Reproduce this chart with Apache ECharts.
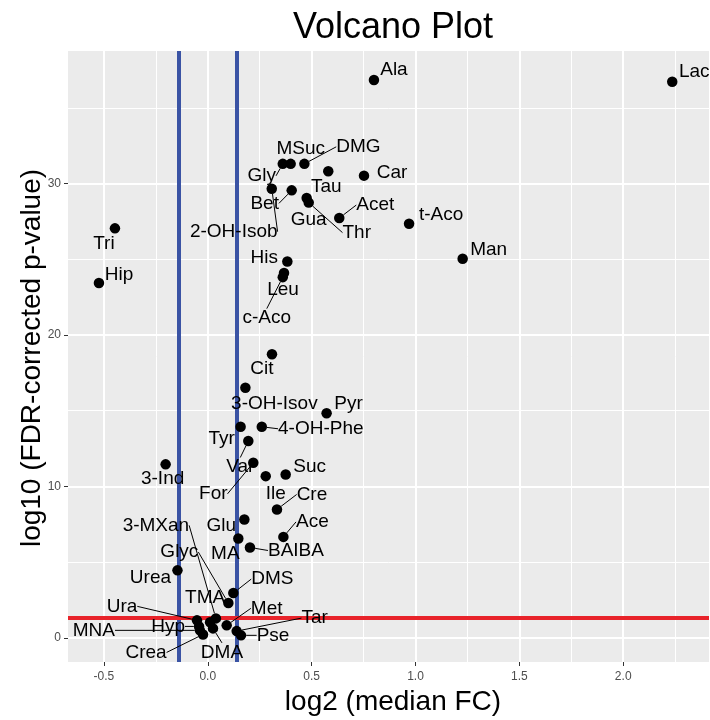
<!DOCTYPE html>
<html>
<head>
<meta charset="utf-8">
<script src="https://cdn.jsdelivr.net/npm/echarts@6/dist/echarts.min.js"></script>
<style>
html,body{margin:0;padding:0;background:#fff;}
#chart{width:710px;height:720px;}
</style>
</head>
<body>
<div id="chart"></div>
<script>
// ---- data ----
const metabolites = ['Ala','Lac','Car','t-Aco','Man','Tri','Hip','Gly','MSuc','DMG','Tau','2-OH-Isob','Bet','Gua','Thr','Acet','His','Leu','c-Aco','Cit','3-OH-Isov','Pyr','Tyr','4-OH-Phe','Var','For','3-Ind','Ile','Suc','Cre','Glu','Ace','MA','BAIBA','Urea','DMS','Glyc','3-MXan','TMA','Met','Tar','Pse','Ura','Hyp','MNA','Crea','DMA'];
const log2FC = [0.800,2.236,0.752,0.969,1.227,-0.447,-0.524,0.361,0.399,0.465,0.580,0.308,0.404,0.476,0.486,0.633,0.383,0.367,0.361,0.309,0.181,0.572,0.158,0.260,0.195,0.219,-0.203,0.279,0.375,0.333,0.176,0.364,0.147,0.203,-0.146,0.123,0.099,0.039,0.011,0.091,0.139,0.160,-0.052,-0.042,-0.038,-0.023,0.025];
const log10P = [36.83,36.72,30.52,27.35,25.03,27.04,23.43,31.30,31.30,31.30,30.81,29.66,29.55,29.05,28.74,27.72,24.85,24.09,23.82,18.73,16.52,14.83,13.94,13.94,13.00,11.56,11.46,10.68,10.79,8.48,7.82,6.67,6.56,5.97,4.46,2.96,2.30,1.29,1.03,0.83,0.45,0.17,1.16,0.76,0.50,0.23,0.63];
const xTicks = [-0.5, 0.0, 0.5, 1.0, 1.5, 2.0];
const xMinorTicks = [-0.25, 0.25, 0.75, 1.25, 1.75, 2.25];
const yTicks = [0, 10, 20, 30];
const yMinorTicks = [5, 15, 25, 35];
const fcThresholds = [-0.14, 0.14];
const pThresholds = [1.3];
const xRange = [-0.673, 2.413];
const yRange = [-1.59, 38.75];

// ---- label placement (pixel offsets of label centre from point; true = leader line) ----
const labelPlacement = {
  'Ala':[20,-10],'Lac':[22,-10],'Car':[28,-3],'t-Aco':[32,-9],'Man':[26,-9],
  'Tri':[-11,15],'Hip':[20,-8],'Gly':[-21,12,true],'MSuc':[10,-15],'DMG':[54,-17,true],
  'Tau':[-2,16],'2-OH-Isob':[-38,43,true],'Bet':[-27,13,true],'Gua':[2,22],'Thr':[48,30,true],
  'Acet':[36,-13,true],'His':[-23,-4],'Leu':[-1,17],'c-Aco':[-16,41,true],'Cit':[-10,15],
  '3-OH-Isov':[29,16],'Pyr':[22,-10],'Tyr':[-19,12],'4-OH-Phe':[59,2,true],'Var':[-8,26,true],
  'For':[-40,31,true],'3-Ind':[-3,14],'Ile':[10,18],'Suc':[24,-8],'Cre':[35,-15,true],
  'Glu':[-23,6],'Ace':[29,-15,true],'MA':[-13,15],'BAIBA':[46,3,true],'Urea':[-27,7],
  'DMS':[39,-14,true],'Glyc':[-49,-51,true],'3-MXan':[-60,-93,true],'TMA':[-5,-25],
  'Met':[40,-17,true],'Tar':[78,-13,true],'Pse':[32,0,true],'Ura':[-75,-14,true],
  'Hyp':[-31,0,true],'MNA':[-106,0,true],'Crea':[-57,18,true],'DMA':[9,24,true]
};

const FONT = '"Liberation Sans", Arial, sans-serif';

const pointData = metabolites.map((n, i) => ({
  name: n,
  value: [log2FC[i], log10P[i]],
  labelLine: { show: !!(labelPlacement[n] && labelPlacement[n][2]) }
}));

const gridLines = []
  .concat(xTicks.map(v => ({ xAxis: v, lineStyle: { width: 2 } })))
  .concat(xMinorTicks.map(v => ({ xAxis: v, lineStyle: { width: 1 } })))
  .concat(yTicks.map(v => ({ yAxis: v, lineStyle: { width: 2 } })))
  .concat(yMinorTicks.map(v => ({ yAxis: v, lineStyle: { width: 1 } })));

const thresholdLines = []
  .concat(fcThresholds.map(v => ({ xAxis: v, lineStyle: { color: '#3A53A4' } })))
  .concat(pThresholds.map(v => ({ yAxis: v, lineStyle: { color: '#E8232A' } })));

const chart = echarts.init(document.getElementById('chart'));
chart.setOption({
  animation: false,
  backgroundColor: '#fff',
  grid: { left: 68, right: 1, top: 51, bottom: 58, show: true, backgroundColor: '#EBEBEB', borderWidth: 0 },
  xAxis: {
    type: 'value', min: xRange[0], max: xRange[1],
    axisLine: { show: true, onZero: false, lineStyle: { color: 'rgba(0,0,0,0)' } },
    splitLine: { show: false },
    axisTick: { show: true, customValues: xTicks, length: 4, lineStyle: { color: '#333', width: 1 } },
    axisLabel: { customValues: xTicks, formatter: v => v.toFixed(1), color: '#4D4D4D', fontSize: 12, margin: 9, fontFamily: FONT }
  },
  yAxis: {
    type: 'value', min: yRange[0], max: yRange[1],
    axisLine: { show: true, onZero: false, lineStyle: { color: 'rgba(0,0,0,0)' } },
    splitLine: { show: false },
    axisTick: { show: true, customValues: yTicks, length: 4, lineStyle: { color: '#333', width: 1 } },
    axisLabel: { customValues: yTicks, formatter: v => String(Math.round(v)), color: '#4D4D4D', fontSize: 12, margin: 7, fontFamily: FONT }
  },
  graphic: [
    { type: 'text', x: 393, y: 28, silent: true,
      style: { text: 'Volcano Plot', font: '36px ' + FONT, fill: '#000', align: 'center', verticalAlign: 'middle', textAlign: 'center', textVerticalAlign: 'middle' } },
    { type: 'text', x: 393, y: 702, silent: true,
      style: { text: 'log2 (median FC)', font: '28px ' + FONT, fill: '#000', align: 'center', verticalAlign: 'middle', textAlign: 'center', textVerticalAlign: 'middle' } },
    { type: 'text', x: 32, y: 358, rotation: Math.PI / 2, silent: true,
      style: { text: 'log10 (FDR-corrected p-value)', font: '28px ' + FONT, fill: '#000', align: 'center', verticalAlign: 'middle', textAlign: 'center', textVerticalAlign: 'middle' } }
  ],
  series: [
    {
      type: 'scatter', name: 'grid', data: [], z: 1, silent: true,
      markLine: { silent: true, symbol: 'none', z: 1, animation: false, label: { show: false },
        lineStyle: { color: '#FFFFFF', type: 'solid', opacity: 1 }, data: gridLines }
    },
    {
      type: 'scatter', name: 'thresholds', data: [], z: 2, silent: true,
      markLine: { silent: true, symbol: 'none', z: 2, animation: false, label: { show: false },
        lineStyle: { width: 4, type: 'solid', opacity: 1 }, data: thresholdLines }
    },
    {
      type: 'scatter', name: 'metabolites', z: 3,
      symbol: 'circle', symbolSize: 10.5,
      itemStyle: { color: '#000', opacity: 1 },
      data: pointData,
      label: {
        show: true, position: 'inside', formatter: p => p.name,
        color: '#000', fontSize: 19, fontFamily: FONT, align: 'center', verticalAlign: 'middle'
      },
      labelLine: { show: false, lineStyle: { color: '#000', width: 1, opacity: 1 } },
      labelLayout: function (p) {
        const o = labelPlacement[metabolites[p.dataIndex]] || [0, 0];
        return { dx: o[0], dy: o[1], hideOverlap: false };
      },
      emphasis: { disabled: true }
    }
  ]
});
</script>
</body>
</html>
